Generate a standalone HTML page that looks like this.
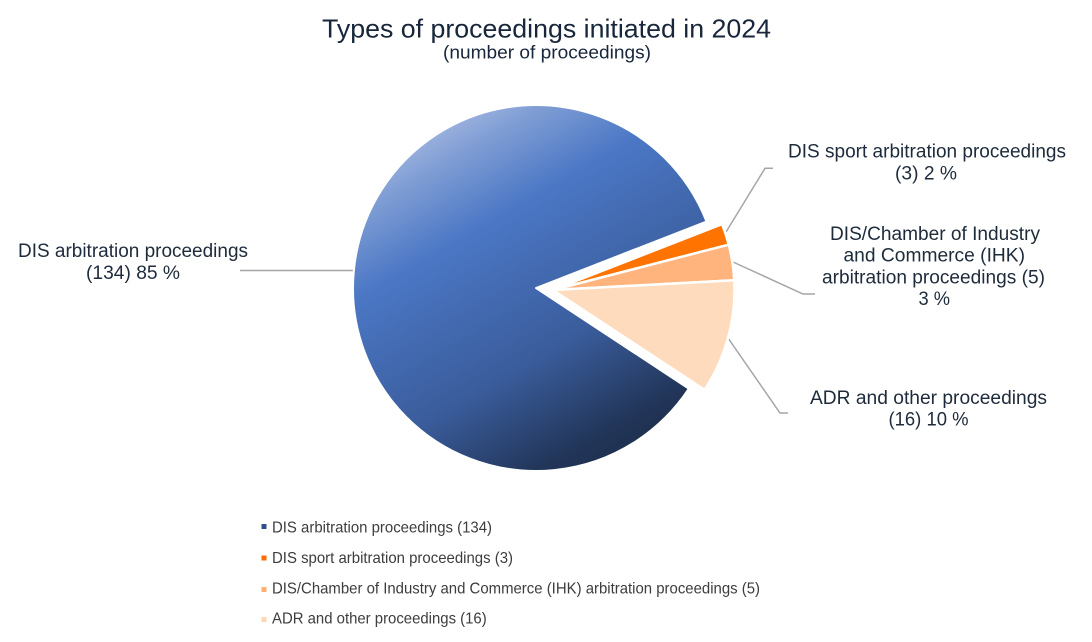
<!DOCTYPE html>
<html>
<head>
<meta charset="utf-8">
<style>
  html, body { margin: 0; padding: 0; background: #ffffff; }
  body { width: 1092px; height: 642px; overflow: hidden; }
  svg { display: block; }
  text { font-family: "Liberation Sans", Arial, sans-serif; }
</style>
</head>
<body>
<svg width="1092" height="642" viewBox="0 0 1092 642" xmlns="http://www.w3.org/2000/svg">
  <defs>
    <linearGradient id="blueGrad" gradientUnits="userSpaceOnUse" x1="444.5" y1="129.5" x2="627.5" y2="446.5">
      <stop offset="0" stop-color="#98afdd"/>
      <stop offset="0.08" stop-color="#7f9dd4"/>
      <stop offset="0.28" stop-color="#4b77c5"/>
      <stop offset="0.67" stop-color="#3a5c9b"/>
      <stop offset="0.93" stop-color="#22365a"/>
      <stop offset="1" stop-color="#1f3150"/>
    </linearGradient>
  </defs>

  <rect x="0" y="0" width="1092" height="642" fill="#ffffff"/>

  <!-- Title -->
  <text x="322" y="37.5" font-size="26" fill="#17263a" textLength="449" lengthAdjust="spacingAndGlyphs">Types of proceedings initiated in 2024</text>
  <text x="443" y="58.5" font-size="18" fill="#17263a" textLength="208" lengthAdjust="spacingAndGlyphs">(number of proceedings)</text>

  <!-- Leader lines -->
  <g stroke="#a6a6a6" stroke-width="1.5" fill="none">
    <polyline points="240,270.5 356,270.5"/>
    <polyline points="726,232 765,168.3 773,168.3"/>
    <polyline points="733,262 803,294 815,294"/>
    <polyline points="728,338 780,413 788,413"/>
  </g>

  <!-- Pie: main slice -->
  <path d="M536,288 L688.81,388.69 A183,183 0 1 1 706.5,221.52 Z" fill="url(#blueGrad)" stroke="#ffffff" stroke-width="2" stroke-linejoin="round"/>

  <!-- Exploded slices (common centre 553,290) -->
  <path d="M553,290 L722.1,224.1 A181.5,181.5 0 0 1 728.75,244.67 Z" fill="#ff7300" stroke="#ffffff" stroke-width="2.5" stroke-linejoin="round"/>
  <path d="M553,290 L728.75,244.67 A181.5,181.5 0 0 1 734.24,280.27 Z" fill="#ffb47e" stroke="#ffffff" stroke-width="2.5" stroke-linejoin="round"/>
  <path d="M553,290 L734.24,280.27 A181.5,181.5 0 0 1 704.56,389.87 Z" fill="#fedbbd" stroke="#ffffff" stroke-width="2.5" stroke-linejoin="round"/>

  <!-- Data labels -->
  <g font-size="19" fill="#1e2b3b">
    <text x="18" y="257" textLength="230" lengthAdjust="spacingAndGlyphs">DIS arbitration proceedings</text>
    <text x="86" y="279" textLength="94" lengthAdjust="spacingAndGlyphs">(134) 85 %</text>

    <text x="788" y="157.5" textLength="278" lengthAdjust="spacingAndGlyphs">DIS sport arbitration proceedings</text>
    <text x="895" y="179.5" textLength="62" lengthAdjust="spacingAndGlyphs">(3) 2 %</text>

    <text x="830" y="240" textLength="210" lengthAdjust="spacingAndGlyphs">DIS/Chamber of Industry</text>
    <text x="843.5" y="261.7" textLength="181.5" lengthAdjust="spacingAndGlyphs">and Commerce (IHK)</text>
    <text x="822" y="283.3" textLength="223" lengthAdjust="spacingAndGlyphs">arbitration proceedings (5)</text>
    <text x="918.5" y="305" textLength="31.5" lengthAdjust="spacingAndGlyphs">3 %</text>

    <text x="810" y="404" textLength="237" lengthAdjust="spacingAndGlyphs">ADR and other proceedings</text>
    <text x="888.5" y="425.5" textLength="80" lengthAdjust="spacingAndGlyphs">(16) 10 %</text>
  </g>

  <!-- Legend -->
  <rect x="261.5" y="524" width="5" height="5" fill="#2f4f8c"/>
  <rect x="261.5" y="555.5" width="5" height="5" fill="#ff6d00"/>
  <rect x="261.5" y="587" width="5" height="5" fill="#ffaf74"/>
  <rect x="261.5" y="617" width="5" height="5" fill="#fdd6b6"/>
  <g font-size="16" fill="#3d3d3d">
    <text x="272" y="532.5" textLength="220" lengthAdjust="spacingAndGlyphs">DIS arbitration proceedings (134)</text>
    <text x="272" y="563" textLength="241" lengthAdjust="spacingAndGlyphs">DIS sport arbitration proceedings (3)</text>
    <text x="272" y="593.5" textLength="488" lengthAdjust="spacingAndGlyphs">DIS/Chamber of Industry and Commerce (IHK) arbitration proceedings (5)</text>
    <text x="272" y="623.3" textLength="214.7" lengthAdjust="spacingAndGlyphs">ADR and other proceedings (16)</text>
  </g>
</svg>
</body>
</html>
